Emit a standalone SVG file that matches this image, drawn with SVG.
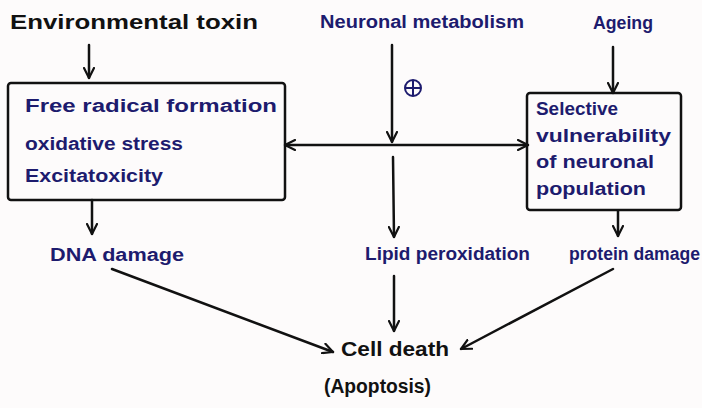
<svg xmlns="http://www.w3.org/2000/svg" width="702" height="408" viewBox="0 0 702 408">
  <style>
    text { font-family: "Liberation Sans", "DejaVu Sans", sans-serif; font-weight: bold; }
    .ink { fill: #111111; font-size: 20px; }
    .blue { fill: #1d1b6e; font-size: 18px; }
    .box { fill: none; stroke: #111111; stroke-width: 2.5; }
    .line { fill: none; stroke: #111111; stroke-width: 2.5; stroke-linecap: round; }
  </style>
  <defs>
    <marker id="arrow" viewBox="0 0 12 12" refX="11" refY="6" markerWidth="12" markerHeight="12" markerUnits="userSpaceOnUse" orient="auto-start-reverse">
      <path d="M1,1 L11,6 L1,11" fill="none" stroke="#111111" stroke-width="2.2" stroke-linecap="round" stroke-linejoin="round"/>
    </marker>
  </defs>
  <rect width="702" height="408" fill="#fdfbfb"/>

  <!-- top inputs -->
  <g id="env-toxin">
    <text class="ink" x="10" y="29" textLength="248" lengthAdjust="spacingAndGlyphs">Environmental toxin</text>
  </g>
  <g id="neuronal-metabolism">
    <text class="blue" x="320" y="28" textLength="204" lengthAdjust="spacingAndGlyphs">Neuronal metabolism</text>
  </g>
  <g id="ageing">
    <text class="blue" x="593" y="29" textLength="60" lengthAdjust="spacingAndGlyphs">Ageing</text>
  </g>

  <!-- left box -->
  <g id="free-radical-box">
    <rect class="box" x="8" y="83" width="277" height="117" rx="3"/>
    <text class="blue" x="25" y="112" textLength="252" lengthAdjust="spacingAndGlyphs">Free radical formation</text>
    <text class="blue" x="25" y="150" textLength="158" lengthAdjust="spacingAndGlyphs">oxidative stress</text>
    <text class="blue" x="25" y="182" textLength="138" lengthAdjust="spacingAndGlyphs">Excitatoxicity</text>
  </g>

  <!-- right box -->
  <g id="vulnerability-box">
    <rect class="box" x="527" y="93" width="154" height="117" rx="3"/>
    <text class="blue" x="536" y="115" textLength="82" lengthAdjust="spacingAndGlyphs">Selective</text>
    <text class="blue" x="536" y="142" textLength="135" lengthAdjust="spacingAndGlyphs">vulnerability</text>
    <text class="blue" x="536" y="168" textLength="118" lengthAdjust="spacingAndGlyphs">of neuronal</text>
    <text class="blue" x="536" y="195" textLength="110" lengthAdjust="spacingAndGlyphs">population</text>
  </g>

  <!-- damage outcomes -->
  <g id="dna-damage">
    <text class="blue" x="50" y="261" textLength="134" lengthAdjust="spacingAndGlyphs">DNA damage</text>
  </g>
  <g id="lipid-peroxidation">
    <text class="blue" x="365" y="260" textLength="165" lengthAdjust="spacingAndGlyphs">Lipid peroxidation</text>
  </g>
  <g id="protein-damage">
    <text class="blue" x="569" y="260" textLength="131" lengthAdjust="spacingAndGlyphs">protein damage</text>
  </g>

  <!-- final outcome -->
  <g id="cell-death">
    <text class="ink" x="341" y="356" textLength="108" lengthAdjust="spacingAndGlyphs">Cell death</text>
    <text class="ink" x="324" y="393" textLength="107" lengthAdjust="spacingAndGlyphs">(Apoptosis)</text>
  </g>

  <!-- connectors -->
  <g id="connectors">
    <line class="line" x1="89" y1="45" x2="89" y2="78" marker-end="url(#arrow)"/>
    <line class="line" x1="392" y1="45" x2="392" y2="142" marker-end="url(#arrow)"/>
    <circle cx="413" cy="88" r="8" fill="none" stroke="#1d1b6e" stroke-width="2"/>
    <line x1="413" y1="81" x2="413" y2="95" stroke="#1d1b6e" stroke-width="2"/>
    <line x1="406" y1="88" x2="420" y2="88" stroke="#1d1b6e" stroke-width="2"/>
    <line class="line" x1="285" y1="145" x2="528" y2="145" marker-start="url(#arrow)" marker-end="url(#arrow)"/>
    <line class="line" x1="613" y1="47" x2="613" y2="93" marker-end="url(#arrow)"/>
    <line class="line" x1="92" y1="200" x2="92" y2="234" marker-end="url(#arrow)"/>
    <line class="line" x1="393" y1="157" x2="394" y2="237" marker-end="url(#arrow)"/>
    <line class="line" x1="618" y1="211" x2="618" y2="236" marker-end="url(#arrow)"/>
    <line class="line" x1="112" y1="269" x2="333" y2="352" marker-end="url(#arrow)"/>
    <line class="line" x1="394" y1="276" x2="394" y2="331" marker-end="url(#arrow)"/>
    <line class="line" x1="613" y1="269" x2="461" y2="349" marker-end="url(#arrow)"/>
  </g>
</svg>
